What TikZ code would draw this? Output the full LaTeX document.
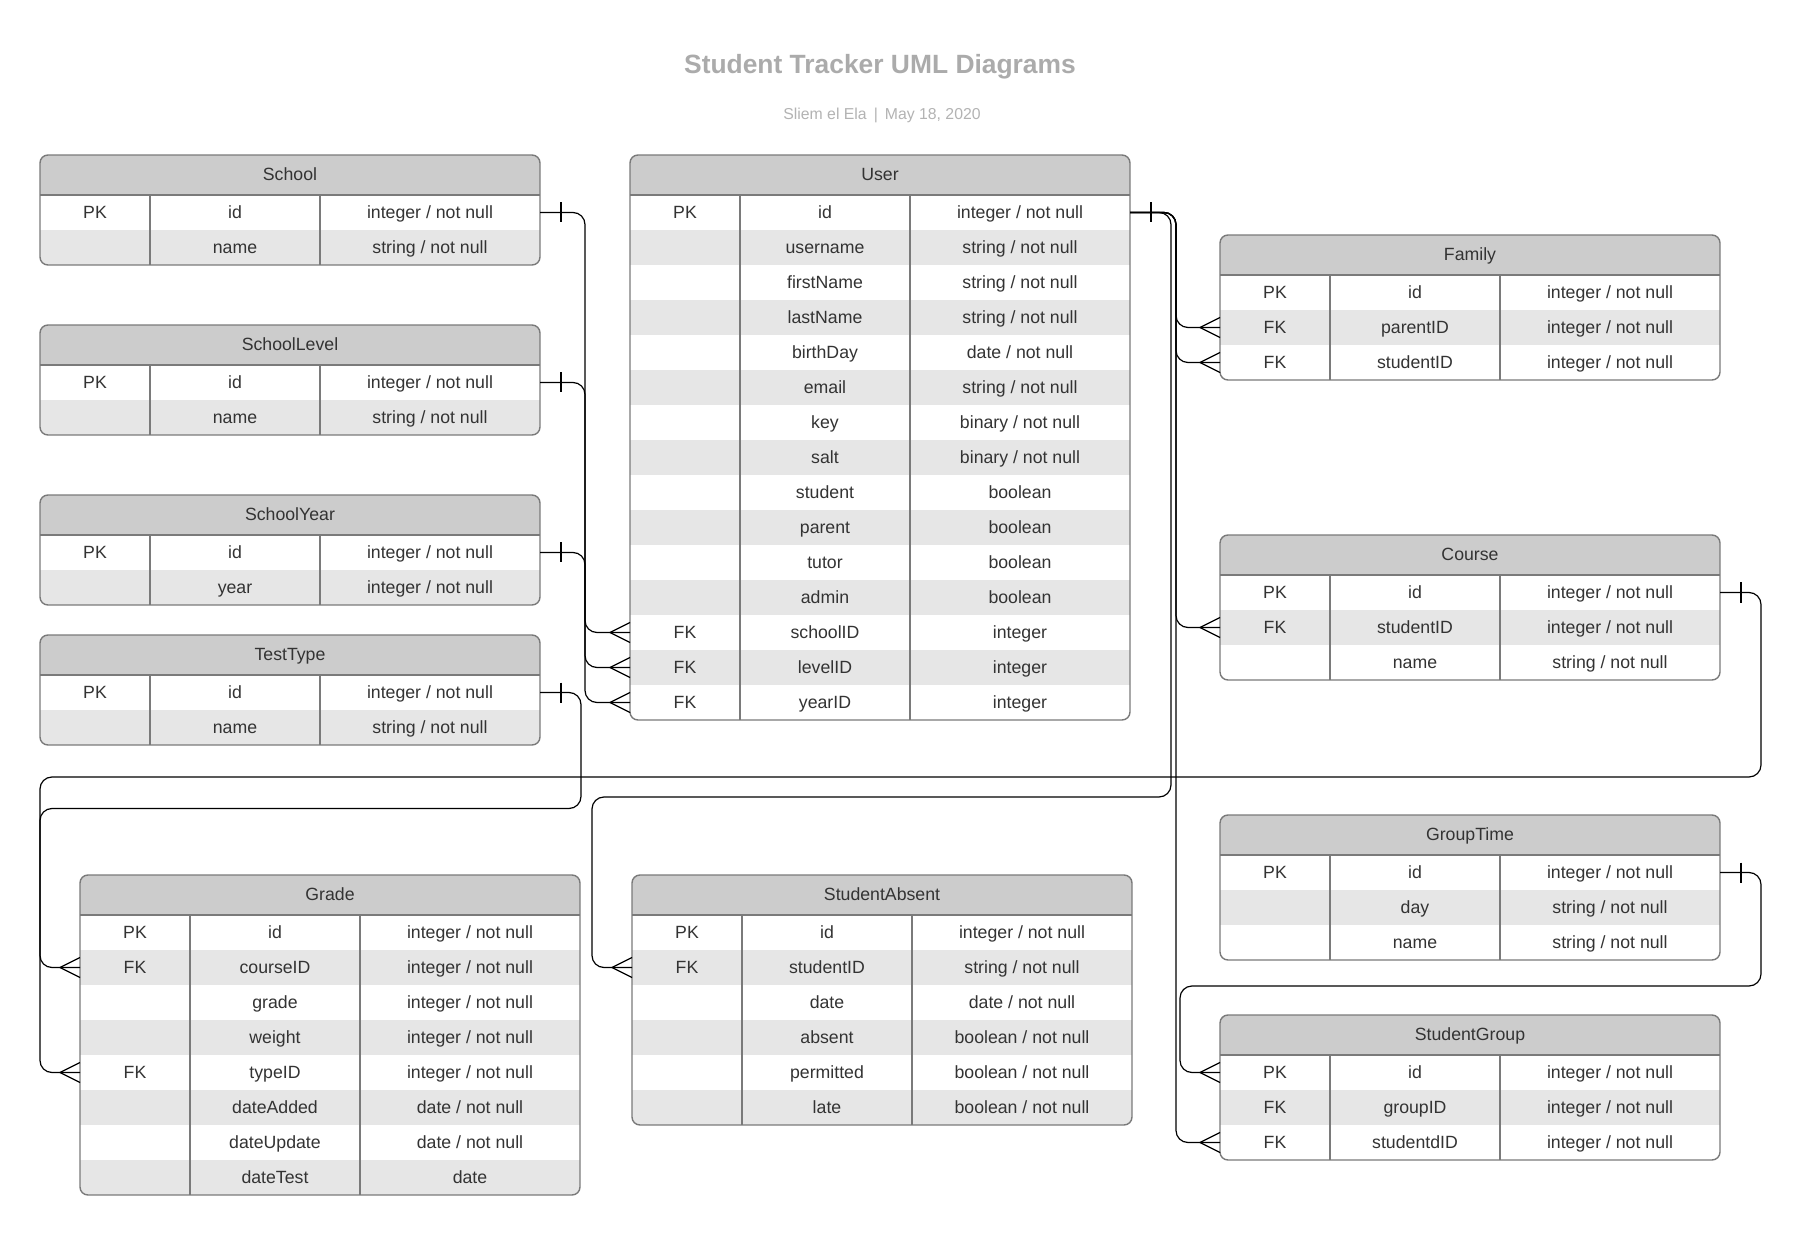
\documentclass[tikz,border=0pt]{standalone}
\usepackage{fontspec}
\setmainfont{Liberation Sans}
\usepackage{tikz}
\usetikzlibrary{calc}
\definecolor{headgray}{HTML}{CCCCCC}
\definecolor{rowgray}{HTML}{E6E6E6}
\definecolor{edgegray}{HTML}{7A7A7A}
\definecolor{textgray}{HTML}{333333}
\definecolor{titlegray}{HTML}{ABABAB}
\definecolor{subgray}{HTML}{B3B3B3}
\newcommand{\cellfont}{\fontsize{8.85}{10}\selectfont}
\tikzstyle{link} = [draw=black, line width=0.6pt, rounded corners=6pt]
\tikzstyle{endline} = [draw=black, line width=0.6pt]
\tikzstyle{tableline} = [draw=edgegray, line width=0.7pt]
\tikzstyle{rowbox} = [inner sep=0pt, outer sep=0pt, minimum width=250pt, minimum height=17.5pt]
\tikzstyle{headbox} = [rowbox, minimum height=20pt, fill=headgray, text=textgray, font=\cellfont, text height=1.5ex, text depth=.45ex]
\tikzstyle{celltext} = [inner sep=0pt, text=textgray, font=\cellfont, text height=1.5ex, text depth=.45ex]
% one entity table: name, title, x, y, number of rows, rows as key/field/type
\newcommand{\ertable}[6]{%
  \begin{scope}[shift={(#3,#4)}]
    \begin{scope}
      \clip[rounded corners=4pt] (0,0) rectangle (500,{40+35*#5});
      \node[headbox] (#1) at (250,20) {#2};
      \foreach \k/\f/\t [count=\i] in {#6} {
        \ifodd\i \def\rowfill{white}\else \def\rowfill{rowgray}\fi
        \node[rowbox, fill=\rowfill] (#1-\i) at (250,{35*\i+22.5}) {};
        \node[celltext] (#1-k\i) at (55,{35*\i+22.5}) {\k};
        \node[celltext] (#1-f\i) at (195,{35*\i+22.5}) {\f};
        \node[celltext] (#1-t\i) at (390,{35*\i+22.5}) {\t};
      }
    \end{scope}
    \draw[tableline] (0,40) -- (500,40) (110,40) -- (110,{40+35*#5}) (280,40) -- (280,{40+35*#5});
    \draw[tableline, rounded corners=4pt] (0,0) rectangle (500,{40+35*#5});
  \end{scope}}

\begin{document}
\begin{tikzpicture}[x=0.5pt, y=-0.5pt]
  \fill[white] (0,0) rectangle (1800,1235);
  \useasboundingbox (0,0) rectangle (1800,1235);

  \node[font=\bfseries\fontsize{13.2}{15}\selectfont, text=titlegray] (title) at (880,67) {Student Tracker UML Diagrams};
  \node[font=\fontsize{7.9}{9}\selectfont, text=subgray] (byline) at (882,115) {Sliem el Ela \,|\, May 18, 2020};

  \ertable{School}{School}{40}{155}{2}{PK/id/{integer / not null},{}/name/{string / not null}}
  \ertable{SchoolLevel}{SchoolLevel}{40}{325}{2}{PK/id/{integer / not null},{}/name/{string / not null}}
  \ertable{SchoolYear}{SchoolYear}{40}{495}{2}{PK/id/{integer / not null},{}/year/{integer / not null}}
  \ertable{TestType}{TestType}{40}{635}{2}{PK/id/{integer / not null},{}/name/{string / not null}}
  \ertable{User}{User}{630}{155}{15}{PK/id/{integer / not null},{}/username/{string / not null},{}/firstName/{string / not null},{}/lastName/{string / not null},{}/birthDay/{date / not null},{}/email/{string / not null},{}/key/{binary / not null},{}/salt/{binary / not null},{}/student/boolean,{}/parent/boolean,{}/tutor/boolean,{}/admin/boolean,FK/schoolID/integer,FK/levelID/integer,FK/yearID/integer}
  \ertable{Family}{Family}{1220}{235}{3}{PK/id/{integer / not null},FK/parentID/{integer / not null},FK/studentID/{integer / not null}}
  \ertable{Course}{Course}{1220}{535}{3}{PK/id/{integer / not null},FK/studentID/{integer / not null},{}/name/{string / not null}}
  \ertable{GroupTime}{GroupTime}{1220}{815}{3}{PK/id/{integer / not null},{}/day/{string / not null},{}/name/{string / not null}}
  \ertable{StudentGroup}{StudentGroup}{1220}{1015}{3}{PK/id/{integer / not null},FK/groupID/{integer / not null},FK/studentdID/{integer / not null}}
  \ertable{Grade}{Grade}{80}{875}{8}{PK/id/{integer / not null},FK/courseID/{integer / not null},{}/grade/{integer / not null},{}/weight/{integer / not null},FK/typeID/{integer / not null},{}/dateAdded/{date / not null},{}/dateUpdate/{date / not null},{}/dateTest/date}
  \ertable{StudentAbsent}{StudentAbsent}{632}{875}{6}{PK/id/{integer / not null},FK/studentID/{string / not null},{}/date/{date / not null},{}/absent/{boolean / not null},{}/permitted/{boolean / not null},{}/late/{boolean / not null}}

  % relations
  \draw[link] (School-1.east) -- ++(45,0) |- (User-13.west);
  \draw[link] (SchoolLevel-1.east) -- ++(45,0) |- (User-14.west);
  \draw[link] (SchoolYear-1.east) -- ++(45,0) |- (User-15.west);
  \draw[link] (TestType-1.east) -- ++(41,0) -- ++(0,116) -| ($(Grade-5.west)+(-40,0)$) -- (Grade-5.west);
  \draw[link] (Course-1.east) -- ++(41,0) -- ++(0,184.5) -| ($(Grade-2.west)+(-40,0)$) -- (Grade-2.west);
  \draw[link] (GroupTime-1.east) -- ++(41,0) -- ++(0,113.5) -| ($(StudentGroup-1.west)+(-40,0)$) -- (StudentGroup-1.west);
  \draw[link] (User-1.east) -- ++(41,0) -- ++(0,584.5) -| ($(StudentAbsent-2.west)+(-40,0)$) -- (StudentAbsent-2.west);
  \foreach \target in {Family-2,Family-3,Course-2,StudentGroup-3}
    \draw[link] (User-1.east) -- ++(46,0) |- (\target.west);

  % one / many ends
  \foreach \src in {School-1,SchoolLevel-1,SchoolYear-1,TestType-1,User-1,Course-1,GroupTime-1}
    \draw[endline] ($(\src.east)+(21,-10)$) -- ($(\src.east)+(21,10)$);
  \foreach \dst in {User-13,User-14,User-15,Grade-2,Grade-5,StudentAbsent-2,Family-2,Family-3,Course-2,StudentGroup-1,StudentGroup-3}
    \draw[endline] ($(\dst.west)+(0,-10)$) -- ($(\dst.west)+(-20,0)$) -- ($(\dst.west)+(0,10)$);
\end{tikzpicture}
\end{document}
